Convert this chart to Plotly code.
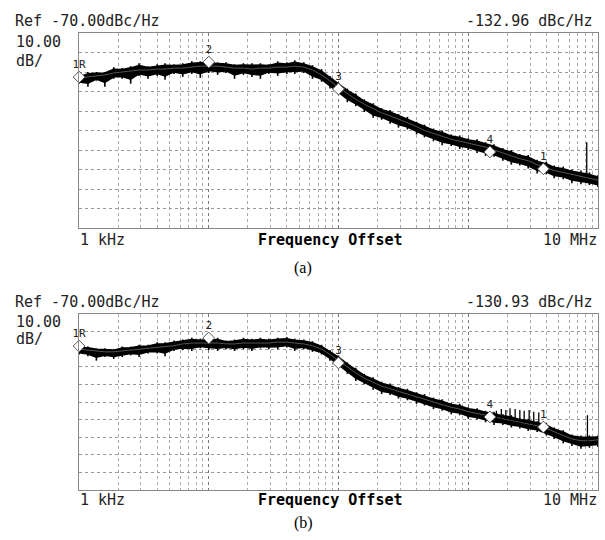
import plotly.graph_objects as go

# ---------------- data ----------------
freq_hz = [1.0e3, 1.17e3, 1.36e3, 1.58e3, 1.85e3, 2.15e3, 2.5e3, 2.9e3, 3.4e3, 4.0e3, 4.6e3, 5.4e3, 6.3e3, 7.4e3, 8.6e3,
           1.0e4, 1.17e4, 1.36e4, 1.58e4, 1.85e4, 2.15e4, 2.5e4, 2.9e4, 3.4e4, 4.0e4, 4.6e4, 5.4e4, 6.3e4, 7.4e4, 8.6e4,
           1.0e5, 1.17e5, 1.36e5, 1.58e5, 1.85e5, 2.15e5, 2.5e5, 2.9e5, 3.4e5, 4.0e5, 4.6e5, 5.4e5, 6.3e5, 7.4e5, 8.6e5,
           1.0e6, 1.17e6, 1.36e6, 1.58e6, 1.85e6, 2.15e6, 2.5e6, 2.9e6, 3.4e6, 4.0e6, 4.6e6, 5.4e6, 6.3e6, 7.4e6, 8.6e6,
           1.0e7]

# panel (a) phase noise, centre of trace (dBc/Hz)
noise_a = [-93.5, -92.5, -92, -91.5, -90.5, -90, -89.5, -89, -89, -88.5, -88.5, -88, -88, -87.5, -87,
           -87, -87, -87.5, -88, -88, -88.5, -88, -88, -87.5, -87.5, -87, -87.5, -89, -91.5, -94.5,
           -98, -101, -104, -106.5, -109, -111, -112.5, -114, -116, -118, -120, -121.5, -123, -124.5, -125.5,
           -126.5, -127.5, -128.5, -130, -131.5, -133, -134.5, -135.5, -137.5, -139, -140.5, -141.5, -142.5, -143.5, -144.5,
           -145.5]
# noise excursion above / below centre (dB)
up_a = [1.5, 2.5, 2, 1.5, 3, 2, 2.5, 3.5, 2, 2.5, 3, 2, 2.5, 3, 2.5,
        3, 2, 2.5, 2, 2.5, 3, 2.5, 2, 3, 2.5, 3, 2.5, 2.5, 3, 2.5,
        2.5, 2.5, 3, 2.5, 3, 2.5, 3, 2.5, 3, 2.5, 3, 2.5, 3, 2.5, 3,
        2.5, 3, 2.5, 3, 2.5, 3, 2.5, 3, 2.5, 3, 2.5, 3, 2.5, 3, 3,
        2.5]
down_a = [2.5, 5, 2.5, 6, 3, 3.5, 6.5, 3, 4.5, 3.5, 5.5, 3, 4.5, 3.5, 6,
          3.5, 4.5, 3, 5.5, 3.5, 4, 5.5, 3, 4.5, 3.5, 4, 3, 4.5, 3.5, 4,
          3.5, 4.5, 3.5, 4, 4.5, 3.5, 4, 4.5, 3.5, 4, 3.5, 4, 4.5, 3.5, 4,
          3.5, 4, 4.5, 3.5, 4, 4.5, 3.5, 4, 4.5, 3.5, 4, 3.5, 4.5, 4, 3.5,
          3.5]
spur_f_a = [8.2e6]
spur_base_a = [-144]
spur_top_a = [-126]

# panel (b)
noise_b = [-90, -90.5, -91, -91.5, -91.5, -91, -90.5, -90, -89.5, -89, -88.5, -88, -87, -86.5, -86.5,
           -86.5, -86.5, -87, -87, -86.5, -86.5, -86.5, -86.5, -86, -86, -86.5, -87, -88, -90, -93,
           -96.5, -100, -103.5, -106.5, -109, -111, -112.5, -114, -115.5, -117, -118.5, -120, -121.5, -123, -124,
           -125.5, -126.5, -127.5, -128.5, -129.5, -130.5, -131.5, -132.5, -133.5, -135, -137, -139, -141, -142, -142,
           -141.5]
up_b = [1.5, 2, 1.5, 2, 1.5, 2.5, 2, 2.5, 2, 3, 2.5, 3, 2.5, 3, 2.5,
        2.5, 3, 2, 2.5, 3, 2.5, 3, 2.5, 2.5, 3, 2.5, 2.5, 2.5, 2.5, 2.5,
        3, 2.5, 3, 2.5, 3, 2.5, 3, 2.5, 3, 2.5, 3, 2.5, 3, 2.5, 3,
        2.5, 3, 2.5, 3, 2.5, 3, 2.5, 3, 2.5, 3, 2.5, 3, 2.5, 3, 3,
        2.5]
down_b = [3, 3.5, 5.5, 3, 4, 3.5, 3, 4.5, 3, 3.5, 5.5, 3, 3.5, 4.5, 3,
          4, 4.5, 3, 4, 3.5, 4.5, 3, 3.5, 4, 3, 4.5, 3, 3.5, 3, 3.5,
          3.5, 4, 4.5, 3.5, 4, 4.5, 3.5, 4, 3.5, 4, 3.5, 4, 3.5, 4, 3.5,
          4, 3.5, 4, 4.5, 3.5, 4, 3.5, 4, 3.5, 4, 4, 4.5, 4, 4.5, 4,
          4]
spur_f_b = [1.65e6, 1.8e6, 1.95e6, 2.1e6, 2.3e6, 2.5e6, 2.7e6, 2.95e6, 3.2e6, 3.5e6, 8.3e6]
spur_base_b = [-129, -129.5, -130, -130.5, -131, -131.5, -132, -132.5, -133, -133.5, -142]
spur_top_b = [-125, -124, -124.5, -123.5, -124, -124.5, -125, -124.5, -125.5, -126, -127.5]

# markers
marker_labels = ["1R", "2", "3", "4", "1"]
marker_f = [1.0e3, 1.0e4, 1.0e5, 1.47e6, 3.8e6]
marker_a = [-92.6, -84.9, -98.7, -131.0, -139.7]
marker_b = [-88.2, -83.6, -97.8, -128.5, -134.2]

readout_a = "-132.96 dBc/Hz"
readout_b = "-130.93 dBc/Hz"
ref_text = "Ref -70.00dBc/Hz"
scale_text = ["10.00", "dB/"]
x_left_label = "1 kHz"
x_right_label = "10 MHz"
x_title = "Frequency Offset"
panel_labels = ["(a)", "(b)"]

minor_grid = [m * d for d in [1e3, 1e4, 1e5, 1e6] for m in [2, 3, 4, 5, 6, 7, 8, 9]]
decades = [1e3, 1e4, 1e5, 1e6, 1e7]

# ---------------- figure ----------------
W, H = 605, 540
CORE_FRAC = 0.65  # part of the excursion drawn as solid core (style)
fig = go.Figure()

def px(x):
    return x / W

def py(y):
    return 1 - y / H

panels = [
    dict(noise=noise_a, up=up_a, down=down_a, sf=spur_f_a, sb=spur_base_a, st=spur_top_a,
         mk=marker_a, xa="x", ya="y"),
    dict(noise=noise_b, up=up_b, down=down_b, sf=spur_f_b, sb=spur_base_b, st=spur_top_b,
         mk=marker_b, xa="x2", ya="y2"),
]

for p in panels:
    core_lo = [n - CORE_FRAC * d for n, d in zip(p["noise"], p["down"])]
    core_hi = [n + CORE_FRAC * u for n, u in zip(p["noise"], p["up"])]
    fig.add_trace(go.Scatter(x=freq_hz, y=core_lo, mode="lines", line=dict(color="black", width=1.5),
                             xaxis=p["xa"], yaxis=p["ya"], showlegend=False, hoverinfo="skip"))
    fig.add_trace(go.Scatter(x=freq_hz, y=core_hi, mode="lines", line=dict(color="black", width=1.5),
                             fill="tonexty", fillcolor="black",
                             xaxis=p["xa"], yaxis=p["ya"], showlegend=False, hoverinfo="skip"))
    # noise excursions drawn as vertical hatching
    zx, zy = [], []
    for f, n, u, d in zip(freq_hz, p["noise"], p["up"], p["down"]):
        zx += [f, f, None]
        zy += [n - d, n + u, None]
    fig.add_trace(go.Scatter(x=zx, y=zy, mode="lines", line=dict(color="black", width=1.6),
                             xaxis=p["xa"], yaxis=p["ya"], showlegend=False, hoverinfo="skip"))
    # smoothed trace (faint line inside the band)
    fig.add_trace(go.Scatter(x=freq_hz, y=p["noise"], mode="lines", line=dict(color="#777", width=0.7),
                             xaxis=p["xa"], yaxis=p["ya"], showlegend=False, hoverinfo="skip"))
    # spurs
    sx, sy = [], []
    for f, b, t in zip(p["sf"], p["sb"], p["st"]):
        sx += [f, f, None]
        sy += [b, t, None]
    fig.add_trace(go.Scatter(x=sx, y=sy, mode="lines", line=dict(color="black", width=1.3),
                             xaxis=p["xa"], yaxis=p["ya"], showlegend=False, hoverinfo="skip"))
    # markers
    fig.add_trace(go.Scatter(x=marker_f, y=p["mk"], mode="markers+text", text=marker_labels,
                             textposition="top center", cliponaxis=False,
                             textfont=dict(family="DejaVu Sans Mono", size=11, color="#222"),
                             marker=dict(symbol="diamond", size=9, color="white",
                                         line=dict(color="#555", width=1)),
                             xaxis=p["xa"], yaxis=p["ya"], showlegend=False, hoverinfo="skip"))

x_dom = [px(79), px(598)]
axis_common_x = dict(type="log", range=[2.9995, 7.0005], tickvals=decades, showticklabels=False, ticks="",
                     showgrid=True, gridcolor="#777", griddash="dot", gridwidth=1,
                     minor=dict(tickvals=minor_grid, showgrid=True, gridcolor="#aaa", griddash="dot", ticks=""),
                     showline=True, linecolor="#888", mirror=True, zeroline=False)
axis_common_y = dict(range=[-170, -70], dtick=10, tick0=-70, showticklabels=False, ticks="",
                     showgrid=True, gridcolor="#999", griddash="dot", gridwidth=1,
                     showline=True, linecolor="#888", mirror=True, zeroline=False)

fig.update_layout(
    width=W, height=H, margin=dict(l=0, r=0, t=0, b=0),
    paper_bgcolor="white", plot_bgcolor="white", hovermode=False,
    xaxis=dict(domain=x_dom, anchor="y", **axis_common_x),
    yaxis=dict(domain=[py(228), py(33)], anchor="x", **axis_common_y),
    xaxis2=dict(domain=x_dom, anchor="y2", **axis_common_x),
    yaxis2=dict(domain=[py(490), py(314)], anchor="x2", **axis_common_y),
)

mono = "DejaVu Sans Mono"
ann = []

def add_text(text, x, y, xanchor, size=15, family=mono, bold=False, color="#222"):
    ann.append(dict(text=f"<b>{text}</b>" if bold else text, x=px(x), y=py(y), xref="paper", yref="paper",
                    xanchor=xanchor, yanchor="middle", showarrow=False,
                    font=dict(family=family, size=size, color=color)))

for (ytop, ys1, ys2, readout, lab, ylab, yx) in [(21, 42, 61, readout_a, panel_labels[0], 268, 240),
                                                 (302, 322, 339, readout_b, panel_labels[1], 523, 500)]:
    add_text(ref_text, 13, ytop, "left")
    add_text(scale_text[0], 14, ys1, "left")
    add_text(scale_text[1], 14, ys2, "left")
    add_text(readout, 594, ytop, "right")
    add_text(x_left_label, 78, yx, "left")
    add_text(x_right_label, 599, yx, "right")
    add_text(x_title, 330, yx, "center", bold=True, color="black")
    add_text(lab, 303, ylab, "center", size=16, family="Liberation Serif", color="black")

fig.update_layout(annotations=ann)
fig.write_html("out.html", config={"displayModeBar": False},
               post_script="document.body.style.margin='0px';document.body.style.overflow='hidden';")
